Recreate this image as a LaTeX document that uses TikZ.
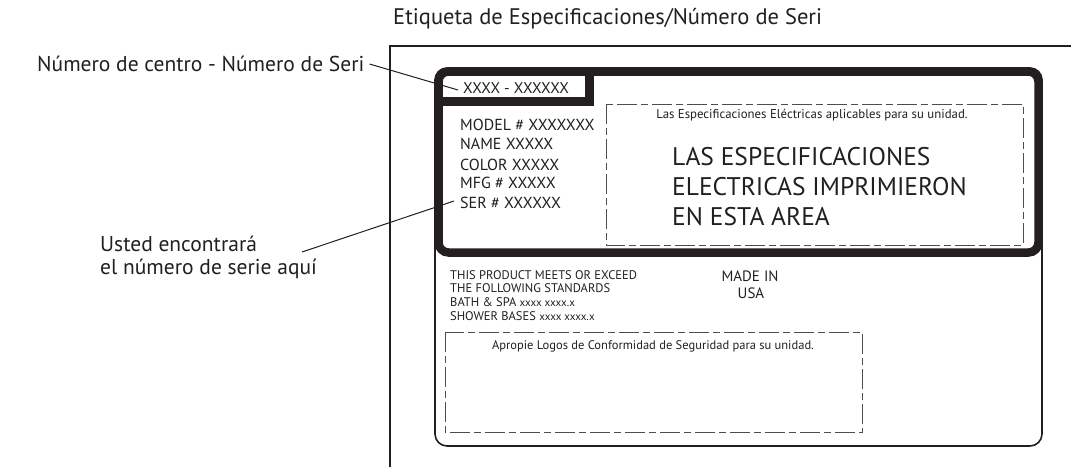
\documentclass[tikz,border=0pt]{standalone}
\usepackage{fontspec}
\setmainfont{PT Sans}
\definecolor{ink}{HTML}{231F20}
\begin{document}
\begin{tikzpicture}[x=1pt,y=-1pt,
  every node/.style={text=ink,inner sep=2pt},
  thin line/.style={draw=ink,line width=1.6pt},
  frame line/.style={draw=ink,line width=2pt},
  thick line/.style={draw=ink,line width=8.5pt},
  dashbox/.style={draw=ink!80,line width=1pt,dash pattern=on 20pt off 4pt on 7pt off 4pt},
  leader/.style={draw=ink,line width=1pt},
  txt/.style={anchor=west,inner sep=0pt}]
\useasboundingbox (0,0) rectangle (1071,467);
% outer frame
\draw[frame line] (390,467) -- (390,46) -- (1071,46);
% title
\node[txt,font=\fontsize{22.5}{24}\selectfont] (title) at (393,19) {Etiqueta de Especificaciones/Número de Seri};
% label outline
\draw[thin line,rounded corners=12pt] (435,68) rectangle (1042,446);
\draw[thick line,rounded corners=10pt] (438.5,71.5) rectangle (1038.5,252.5);
\draw[thick line,line join=miter] (438.5,101.5) -- (589.5,101.5) -- (589.5,71.5);
% serial
\node[txt,font=\fontsize{15.5}{17}\selectfont] (serial) at (463,88) {XXXX - XXXXXX};
\node[txt,font=\fontsize{16}{18}\selectfont] (model) at (460,125) {MODEL \# XXXXXXX};
\node[txt,font=\fontsize{16}{18}\selectfont] (name) at (460,144) {NAME XXXXX};
\node[txt,font=\fontsize{16}{18}\selectfont] (color) at (460,165) {COLOR XXXXX};
\node[txt,font=\fontsize{16}{18}\selectfont] (mfg) at (460,183) {MFG \# XXXXX};
\node[txt,font=\fontsize{16}{18}\selectfont] (ser) at (460,203) {SER \# XXXXXX};
% electrical spec dashed box
\draw[dashbox] (606,104) rectangle (1023,245);
\node[font=\fontsize{12.8}{14}\selectfont,inner sep=0pt] (elec) at (812,115) {Las Especificaciones Eléctricas aplicables para su unidad.};
\node[txt,font=\fontsize{25.5}{30}\selectfont] (big1) at (672,157) {LAS ESPECIFICACIONES};
\node[txt,font=\fontsize{25.5}{30}\selectfont] (big2) at (672,187) {ELECTRICAS IMPRIMIERON};
\node[txt,font=\fontsize{25.5}{30}\selectfont] (big3) at (672,217) {EN ESTA AREA};
% standards
\node[txt,font=\fontsize{12.5}{14}\selectfont] (std1) at (450,275) {THIS PRODUCT MEETS OR EXCEED};
\node[txt,font=\fontsize{12.5}{14}\selectfont] (std2) at (450,288) {THE FOLLOWING STANDARDS};
\node[txt,font=\fontsize{12.5}{14}\selectfont] (std3) at (450,302) {BATH \& SPA {\fontsize{11}{12}\selectfont xxxx xxxx.x}};
\node[txt,font=\fontsize{12.5}{14}\selectfont] (std4) at (450,316) {SHOWER BASES {\fontsize{11}{12}\selectfont xxxx xxxx.x}};
\node[font=\fontsize{15}{17}\selectfont,inner sep=0pt] (made) at (750,276) {MADE IN};
\node[font=\fontsize{15}{17}\selectfont,inner sep=0pt] (usa) at (751,293) {USA};
% logos dashed box
\draw[dashbox] (445,332) rectangle (862,432);
\node[font=\fontsize{12.5}{14}\selectfont,inner sep=0pt] (logos) at (653,346) {Apropie Logos de Conformidad de Seguridad para su unidad.};
% callouts
\node[txt,font=\fontsize{21.5}{24}\selectfont] (lblA) at (37,64) {Número de centro - Número de Seri};
\node[txt,align=left,font=\fontsize{21.5}{23}\selectfont] (lblB) at (100,257) {Usted encontrará\\el número de serie aquí};
\coordinate (lblBend) at (302,252);
\draw[leader] ([xshift=5pt]lblA.east) -- ([xshift=-5pt,yshift=-2pt]serial.west);
\draw[leader] (lblBend) -- ([xshift=-6pt,yshift=2pt]ser.west);
\end{tikzpicture}
\end{document}
